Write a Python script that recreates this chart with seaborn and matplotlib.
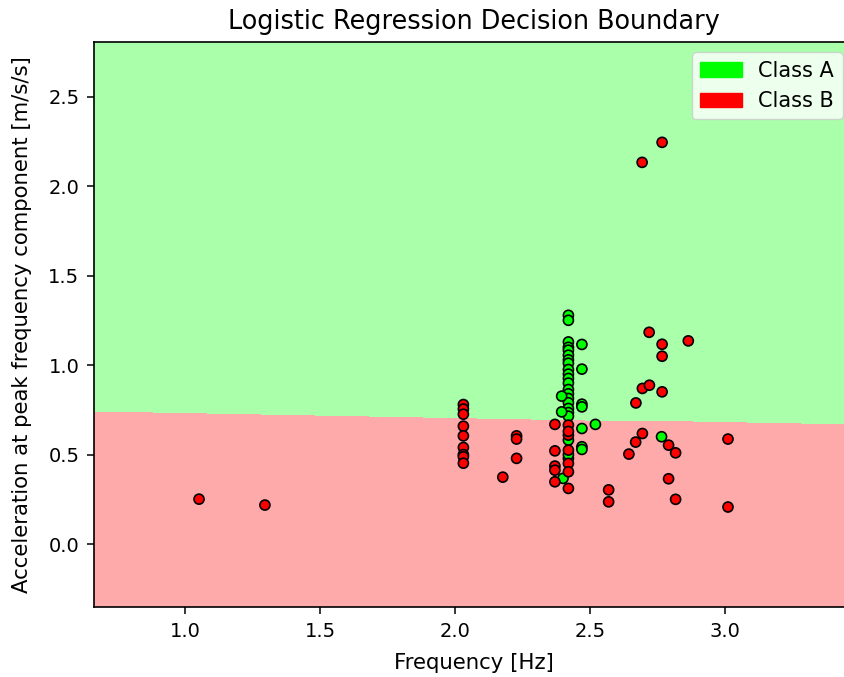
import numpy as np
import pandas as pd
import matplotlib
matplotlib.use("Agg")
import matplotlib.pyplot as plt
from matplotlib.colors import ListedColormap
from matplotlib.patches import Patch
import seaborn as sns

# Samples: peak frequency [Hz] and acceleration at that frequency [m/s/s]
class_a_freq = [2.42, 2.42, 2.42, 2.42, 2.42, 2.42, 2.42, 2.42, 2.42, 2.42,
                2.42, 2.42, 2.42, 2.42, 2.42, 2.42, 2.42, 2.42, 2.42, 2.42,
                2.42, 2.42, 2.47, 2.47, 2.47, 2.47, 2.47, 2.47, 2.47, 2.395,
                2.395, 2.40, 2.52, 2.765]
class_a_acc = [1.279, 1.251, 1.13, 1.10, 1.084, 1.056, 1.03, 1.011, 0.976, 0.95,
               0.926, 0.90, 0.864, 0.84, 0.814, 0.79, 0.758, 0.735, 0.715, 0.581,
               0.479, 0.50, 1.116, 0.978, 0.782, 0.767, 0.646, 0.544, 0.529, 0.827,
               0.739, 0.367, 0.669, 0.600]

class_b_freq = [1.052, 1.296, 2.031, 2.031, 2.031, 2.031, 2.031, 2.031, 2.031, 2.031,
                2.031, 2.228, 2.228, 2.228, 2.177, 2.37, 2.37, 2.37, 2.37, 2.37,
                2.42, 2.42, 2.42, 2.42, 2.42, 2.42, 2.42, 2.569, 2.569, 2.644,
                2.669, 2.670, 2.694, 2.694, 2.719, 2.720, 2.693, 2.767, 2.767, 2.767,
                2.767, 2.864, 2.791, 2.817, 2.791, 2.817, 3.011, 3.011]
class_b_acc = [0.251, 0.218, 0.780, 0.755, 0.726, 0.659, 0.605, 0.540, 0.500, 0.488,
               0.452, 0.605, 0.587, 0.479, 0.374, 0.669, 0.521, 0.436, 0.413, 0.348,
               0.665, 0.609, 0.525, 0.451, 0.404, 0.311, 0.63, 0.303, 0.236, 0.503,
               0.570, 0.789, 0.618, 0.870, 1.184, 0.888, 2.134, 2.246, 1.117, 1.050,
               0.851, 1.136, 0.553, 0.510, 0.365, 0.250, 0.587, 0.207]

class_names = ["Class A", "Class B"]
light_colors = ["#AAFFAA", "#FFAAAA"]
bold_colors = ["#00FF00", "#FF0000"]

# Fitted logistic regression: score = b0 + b1*freq + b2*acc, score > 0 -> Class A
coef_intercept = -0.755
coef_freq = 0.025
coef_acc = 1.0

x_range = (0.663, 3.474)
y_range = (-0.352, 2.807)

df = pd.DataFrame({
    "freq": class_a_freq + class_b_freq,
    "acc": class_a_acc + class_b_acc,
    "label": [class_names[0]] * len(class_a_freq) + [class_names[1]] * len(class_b_freq),
})

fig = plt.figure(figsize=(8.45, 6.77), dpi=100)
# axes run slightly past the right edge of the canvas
ax = fig.add_axes([94 / 845, 70 / 677, 759 / 845, 565 / 677])

# Decision regions on a mesh grid
step = 0.005
xx, yy = np.meshgrid(np.arange(x_range[0], x_range[1] + step, step),
                     np.arange(y_range[0], y_range[1] + step, step))
score = coef_intercept + coef_freq * xx + coef_acc * yy
zz = np.where(score > 0, 0, 1)
ax.pcolormesh(xx, yy, zz, cmap=ListedColormap(light_colors), shading="auto",
              vmin=0, vmax=1)

sns.scatterplot(data=df, x="freq", y="acc", hue="label", hue_order=class_names,
                palette=bold_colors, edgecolor="k", linewidth=1.2, s=52,
                legend=False, ax=ax, zorder=3)

ax.set_xlim(*x_range)
ax.set_ylim(*y_range)
ax.set_xticks([1.0, 1.5, 2.0, 2.5, 3.0])
ax.set_yticks([0.0, 0.5, 1.0, 1.5, 2.0, 2.5])
ax.tick_params(labelsize=14, length=5, width=1.1, pad=5.5)
for sp in ax.spines.values():
    sp.set_linewidth(1.2)
ax.set_xlabel("Frequency [Hz]", fontsize=15.3, labelpad=9)
ax.set_ylabel("Acceleration at peak frequency component [m/s/s]", fontsize=15.3,
              labelpad=12)
ax.set_title("Logistic Regression Decision Boundary", fontsize=18.4, pad=9.5)

handles = [Patch(color=c, label=n) for c, n in zip(bold_colors, class_names)]
ax.legend(handles=handles, loc="upper right", fontsize=15)

fig.savefig("out.png", dpi=100)
